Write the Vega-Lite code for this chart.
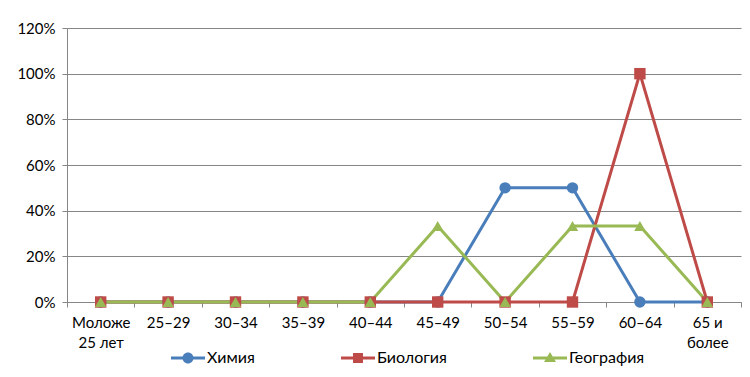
{
  "$schema": "https://vega.github.io/schema/vega-lite/v6.json",
  "width": 674,
  "height": 274,
  "autosize": "none",
  "padding": {"left": 67, "top": 28, "right": 9, "bottom": 75},
  "background": "white",
  "data": {
    "values": [
      {"age": "Моложе 25 лет", "subject": "Химия", "share": 0},
      {"age": "25–29", "subject": "Химия", "share": 0},
      {"age": "30–34", "subject": "Химия", "share": 0},
      {"age": "35–39", "subject": "Химия", "share": 0},
      {"age": "40–44", "subject": "Химия", "share": 0},
      {"age": "45–49", "subject": "Химия", "share": 0},
      {"age": "50–54", "subject": "Химия", "share": 0.5},
      {"age": "55–59", "subject": "Химия", "share": 0.5},
      {"age": "60–64", "subject": "Химия", "share": 0},
      {"age": "65 и более", "subject": "Химия", "share": 0},
      {"age": "Моложе 25 лет", "subject": "Биология", "share": 0},
      {"age": "25–29", "subject": "Биология", "share": 0},
      {"age": "30–34", "subject": "Биология", "share": 0},
      {"age": "35–39", "subject": "Биология", "share": 0},
      {"age": "40–44", "subject": "Биология", "share": 0},
      {"age": "45–49", "subject": "Биология", "share": 0},
      {"age": "50–54", "subject": "Биология", "share": 0},
      {"age": "55–59", "subject": "Биология", "share": 0},
      {"age": "60–64", "subject": "Биология", "share": 1},
      {"age": "65 и более", "subject": "Биология", "share": 0},
      {"age": "Моложе 25 лет", "subject": "География", "share": 0},
      {"age": "25–29", "subject": "География", "share": 0},
      {"age": "30–34", "subject": "География", "share": 0},
      {"age": "35–39", "subject": "География", "share": 0},
      {"age": "40–44", "subject": "География", "share": 0},
      {"age": "45–49", "subject": "География", "share": 0.333},
      {"age": "50–54", "subject": "География", "share": 0},
      {"age": "55–59", "subject": "География", "share": 0.333},
      {"age": "60–64", "subject": "География", "share": 0.333},
      {"age": "65 и более", "subject": "География", "share": 0}
    ]
  },
  "config": {
    "font": "Lato",
    "view": {"stroke": null},
    "axis": {
      "labelFont": "Lato",
      "labelFontSize": 15,
      "labelColor": "#000000",
      "domainColor": "#868686",
      "tickColor": "#868686",
      "gridColor": "#868686",
      "title": null
    }
  },
  "resolve": {"scale": {"shape": "independent"}},
  "encoding": {
    "x": {
      "field": "age",
      "type": "nominal",
      "sort": null,
      "scale": {"paddingInner": 0, "paddingOuter": 0},
      "axis": {
        "labelAngle": 0,
        "tickBand": "extent",
        "ticks": true,
        "tickSize": 5,
        "labelPadding": 8,
        "labelLineHeight": 20,
        "labelExpr": "datum.value == 'Моложе 25 лет' ? ['Моложе', '25 лет'] : datum.value == '65 и более' ? ['65 и', 'более'] : datum.value"
      }
    },
    "y": {
      "field": "share",
      "type": "quantitative",
      "scale": {"domain": [0, 1.2]},
      "axis": {
        "format": ".0%",
        "values": [0, 0.2, 0.4, 0.6, 0.8, 1.0, 1.2],
        "tickSize": 5,
        "labelPadding": 7,
        "grid": true,
        "domain": true
      }
    },
    "color": {
      "field": "subject",
      "type": "nominal",
      "sort": ["Химия", "Биология", "География"],
      "scale": {
        "domain": ["Химия", "Биология", "География"],
        "range": ["#4A7EBB", "#BE4B48", "#98B954"]
      },
      "legend": null
    }
  },
  "layer": [
    {
      "mark": {"type": "line", "strokeWidth": 3},
      "encoding": {}
    },
    {
      "mark": {"type": "point", "filled": true, "opacity": 1, "size": 130},
      "encoding": {
        "shape": {
          "field": "subject",
          "type": "nominal",
          "sort": ["Химия", "Биология", "География"],
          "scale": {
            "domain": ["Химия", "Биология", "География"],
            "range": ["circle", "square", "triangle-up"]
          },
          "legend": null
        }
      }
    },
    {
      "transform": [{"filter": "datum.share > 5"}],
      "mark": {"type": "point", "filled": true, "size": 100},
      "encoding": {
        "shape": {
          "field": "subject",
          "type": "nominal",
          "sort": ["Химия", "Биология", "География"],
          "scale": {
            "domain": ["Химия", "Биология", "География"],
            "range": [
              "M-3.4,-0.3H3.4V0.3H-3.4Z M1.1,0A1.1,1.1,0,1,1,-1.1,0A1.1,1.1,0,1,1,1.1,0Z",
              "M-3.4,-0.3H3.4V0.3H-3.4Z M-1,-1H1V1H-1Z",
              "M-3.4,-0.3H3.4V0.3H-3.4Z M0,-1.2L1.2,0.8H-1.2Z"
            ]
          },
          "legend": {
            "orient": "none",
            "legendX": 113,
            "legendY": 322,
            "direction": "horizontal",
            "columns": 3,
            "title": null,
            "labelFont": "Lato",
            "labelFontSize": 16,
            "labelColor": "#000000",
            "symbolSize": 100,
            "symbolStrokeWidth": 0,
            "symbolOpacity": 1,
            "symbolFillColor": {"expr": "datum.value == 'Химия' ? '#4A7EBB' : datum.value == 'Биология' ? '#BE4B48' : '#98B954'"},
            "labelOffset": 11,
            "columnPadding": 86,
            "gridAlign": "none"
          }
        }
      }
    }
  ]
}
